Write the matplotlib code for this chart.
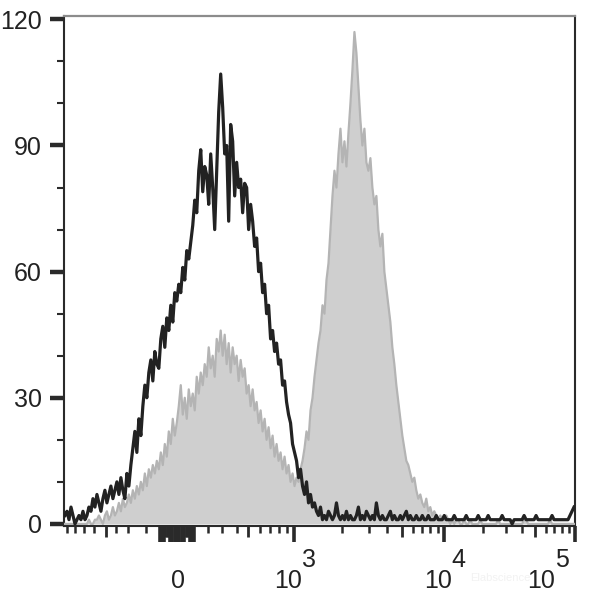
import numpy as np
import matplotlib
matplotlib.use('Agg')
import matplotlib.pyplot as plt
from matplotlib import transforms

plt.rcParams['font.family'] = ['Liberation Sans', 'DejaVu Sans']

# ---------------- data ----------------
# counts per channel (256 channels evenly spaced on the biexponential axis)
black_counts = [
    2, 3, 1, 4, 2, 0, 1, 2, 1, 3, 1, 2, 4, 3, 6, 4, 7, 5, 3, 6,
    8, 5, 7, 9, 6, 8, 10, 7, 11, 8, 6, 12, 9,
    14, 18, 22, 17, 25, 21, 28, 33, 30, 36, 39, 34, 41, 38, 37, 44, 47, 42, 49, 46,
    52, 48, 55, 53, 57, 55, 61, 58, 65, 63, 67, 71, 77, 74, 84,
    89, 79, 85, 83, 76, 88, 80, 70, 84, 98, 107, 99, 88, 90, 72, 95, 91, 78, 86, 80,
    82, 74, 81, 80, 70, 76, 72, 66, 68, 60, 62, 55, 57, 50, 52,
    44, 46, 41, 43, 38, 39, 33, 34, 29, 26, 24, 19, 17, 15, 11, 13, 9, 7, 10, 5,
    7, 4, 5, 3, 2, 4,
    1, 2, 1, 3, 2, 1, 2, 5, 2, 1, 2, 1, 3, 1, 2, 1, 1, 2, 4, 1,
    2, 1, 3, 2, 1, 2, 1, 5, 2, 1, 2, 1, 1, 2, 3, 1, 2, 1, 1, 2,
    1, 2, 3, 1, 2, 1, 1, 2, 1, 1, 2, 1, 1, 2, 1, 1, 1, 2, 1, 1,
    1, 2, 1, 1, 1, 1, 2, 1, 1, 1, 1, 1, 2, 1, 1, 1, 1, 1, 2, 1,
    1, 1, 1, 2, 1, 1, 1, 1, 1, 1, 2, 1, 1, 1, 1, 0, 1, 1, 1, 1,
    1, 2, 1, 1, 1, 1, 1, 2, 1, 1, 1, 1, 1, 1, 1, 2, 1, 1, 1, 1,
    1, 1, 1, 1, 2, 3, 4]

gray_counts = [
    0, 0, 0, 0, 0, 0, 0, 0, 0, 0, 0, 0, 1, 0, 0, 1,
    1, 2, 1, 0, 2, 3, 1, 2, 4, 2, 3, 5, 3, 6, 4, 5, 7,
    5, 8, 6, 9, 7, 10, 8, 12, 9, 13, 11, 14, 12, 15, 13, 17, 14, 19, 16, 22,
    19, 25, 21, 24, 28, 33, 26, 30, 25, 32, 28, 31, 27, 35, 31,
    36, 33, 38, 35, 42, 37, 40, 35, 44, 41, 46, 40, 45, 38, 43, 36, 42, 38, 40, 34,
    39, 35, 37, 31, 33, 28, 32, 27, 29, 24, 27, 22, 25, 20, 23,
    18, 21, 16, 19, 15, 17, 13, 16, 12, 14, 10, 12, 9, 11, 10, 13, 15, 18, 22, 20,
    27, 30, 35, 39, 43, 46,
    52, 50, 58, 62, 70, 78, 84, 80, 88, 94, 86, 91, 85, 93, 100, 108, 117, 112, 104, 96,
    90, 94, 86, 84, 87, 80, 76, 78, 70, 66, 69, 60, 56, 52, 48, 42, 38, 33, 29, 25,
    21, 18, 15, 14, 12, 10, 11, 8, 6, 7, 5, 4, 6, 3, 4, 2, 3, 2, 1, 2,
    1, 1, 2, 1, 0, 1, 0, 1, 1, 0, 0, 1, 0, 0, 1, 0, 0, 0, 0, 1,
    0, 0, 0, 0, 0, 0, 0, 0, 1, 0, 0, 0, 0, 0, 0, 0, 0, 0, 0, 0,
    0, 1, 1, 0, 0, 0, 0, 0, 0, 0, 0, 0, 0, 0, 1, 0, 0, 0, 0, 0,
    0, 0, 0, 0, 0, 0, 0]

y_ticks = [0, 30, 60, 90, 120]
y_minor = [10, 20, 40, 50, 70, 80, 100, 110]
x_major_vals = [0, 1000, 10000, 100000]
x_tick_labels = [("0", None), ("10", "3"), ("10", "4"), ("10", "5")]
XLIM = (-940, 100000)
YLIM = (-0.5, 120.8)

# ------------- biexponential-like display scale -------------
K = 50.0
anchor_vals = np.array([-1e5, -1000, -500, -200, -100, 0, 100, 200, 300, 500,
                        1000, 2000, 5000, 10000, 20000, 50000, 100000, 1e6])
anchor_pos = np.array([-202, 60, 106, 146, 160, 177, 194, 208, 222, 248,
                       294, 342, 402, 444, 483, 535, 575, 706], dtype=float)
anchor_u = np.arcsinh(anchor_vals / K)


def fwd(x):
    return np.interp(np.arcsinh(np.asarray(x, dtype=float) / K), anchor_u, anchor_pos)


def inv(p):
    return K * np.sinh(np.interp(np.asarray(p, dtype=float), anchor_pos, anchor_u))


n = len(black_counts)
edges = np.linspace(fwd(XLIM[0]), fwd(XLIM[1]), n + 1)
centers = inv((edges[:-1] + edges[1:]) / 2)

# ---------------- figure ----------------
fig = plt.figure(figsize=(5.89, 6.0), dpi=100)
ax = fig.add_axes([64 / 589, 74 / 600, 511 / 589, 510 / 600])
ax.set_xscale('function', functions=(fwd, inv))
ax.set_xlim(XLIM)
ax.set_ylim(YLIM)

ax.fill_between(centers, gray_counts, 0, color='#cfcfcf', lw=0, zorder=2)
ax.plot(centers, gray_counts, color='#b4b4b4', lw=1.6, zorder=3)
ax.plot(centers, black_counts, color='#222222', lw=2.3, zorder=4)

# spines
for s in ['left', 'bottom', 'right']:
    ax.spines[s].set_color('#2a2a2a')
    ax.spines[s].set_linewidth(1.5)
ax.spines['top'].set_color('#8c8c8c')
ax.spines['top'].set_linewidth(1.6)

# y ticks
ax.set_yticks(y_ticks)
ax.set_yticks(y_minor, minor=True)
ax.tick_params(axis='y', which='major', length=10, width=3.2, color='#2a2a2a',
               labelsize=18, labelcolor='#222222', pad=6)
ax.tick_params(axis='y', which='minor', length=5, width=1.5, color='#2a2a2a')

# x ticks: long, medium, short
cluster_long = [-100, -90, -80, -70, -30, -20, -10, 10, 20, 30, 70, 80, 90, 100]
cluster_med = [-60, -50, -40, 40, 50, 60]
x_long = x_major_vals + cluster_long
x_med = [-500, 500, 5000, 50000] + cluster_med
x_short = ([-900, -800, -700, -600, -400, -300, -200] +
           [200, 300, 400, 600, 700, 800, 900] +
           [2000, 3000, 4000, 6000, 7000, 8000, 9000] +
           [20000, 30000, 40000, 60000, 70000, 80000, 90000])

ax.set_xticks(x_long)
ax.set_xticklabels([''] * len(x_long))
ax.set_xticks(x_short, minor=True)
ax.tick_params(axis='x', which='major', length=11.5, width=2.6, color='#2a2a2a', direction='out')
ax.tick_params(axis='x', which='minor', length=5, width=1.8, color='#2a2a2a', direction='out')

ax2 = ax.twiny()
ax2.set_xscale('function', functions=(fwd, inv))
ax2.set_xlim(XLIM)
ax2.xaxis.set_ticks_position('bottom')
ax2.set_xticks(x_med)
ax2.set_xticks([], minor=True)
ax2.tick_params(axis='x', which='major', length=8, width=2.0, color='#2a2a2a',
                labelbottom=False, labeltop=False, top=False, bottom=True)
for s in ax2.spines.values():
    s.set_visible(False)

# x tick labels (base and superscript)
trans = transforms.blended_transform_factory(ax.transData, ax.transAxes)
base_dx = [1, -6, -6, -34]
sup_dx = [0, 15, 14, -13]
for val, (base, sup), bdx, sdx in zip(x_major_vals, x_tick_labels, base_dx, sup_dx):
    tb = transforms.offset_copy(trans, fig=fig, x=bdx, y=0, units='dots')
    ax.text(val, -0.108, base, transform=tb, ha='center', va='center',
            fontsize=18, color='#222222')
    if sup:
        ts = transforms.offset_copy(trans, fig=fig, x=sdx, y=0, units='dots')
        ax.text(val, -0.066, sup, transform=ts, ha='center', va='center',
                fontsize=18, color='#222222')

fig.text(500 / 589, 1 - 578 / 600, 'Elabscience', ha='center', va='center',
         fontsize=8, color='#f2f2f2')

fig.savefig('out.png', dpi=100)
